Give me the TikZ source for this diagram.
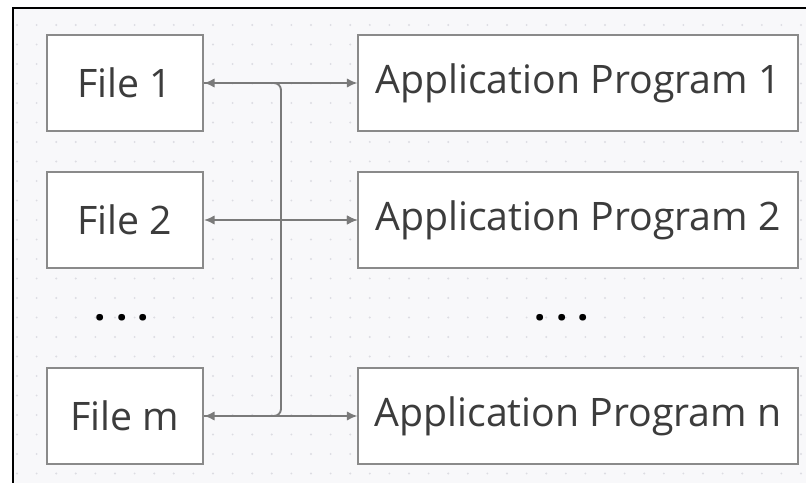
\documentclass[tikz,border=0pt]{standalone}
\usepackage{fontspec}
\setmainfont{Open Sans}
\usetikzlibrary{positioning, arrows.meta}

\definecolor{paper}{HTML}{F8F8FA}
\definecolor{griddot}{HTML}{DCDCE2}
\definecolor{edge}{HTML}{8A8A8A}
\definecolor{link}{HTML}{7A7A7A}
\definecolor{ink}{HTML}{3C3C3C}

\tikzset{
	filebox/.style={draw=edge, line width=1.7pt, fill=white, minimum width=4.68cm, minimum height=2.88cm, text=ink, font=\fontsize{33.5}{38}\selectfont},
	progbox/.style={filebox, minimum width=13.17cm},
	link/.style={draw=link, line width=1.6pt, {Latex[length=9pt,width=8pt]}-{Latex[length=9pt,width=8pt]}},
	gap/.style={anchor=base, inner sep=0pt, font=\fontsize{34}{38}\selectfont\bfseries}
}

\begin{document}
\begin{tikzpicture}[x=0.03cm, y=-0.03cm]
	\useasboundingbox (0,0) rectangle (806,483);
	% dotted canvas
	\fill[paper] (13,8) rectangle (806,483);
	\foreach \x in {17,36.6,...,806}
		\foreach \y in {25,44.5,...,483}
			\fill[griddot] (\x,\y) circle (0.9pt);
	\draw[line width=1.4pt] (13,483) -- (13,8) -- (806,8);

	% files and programs
	\node[filebox] (f1) at (125,83) {File 1};
	\node[filebox] (f2) at (125,220) {File 2};
	\node[filebox] (fm) at (125,416) {File m};
	\node[progbox] (a1) at (578,83) {Application Program 1};
	\node[progbox] (a2) at (578,220) {Application Program 2};
	\node[progbox] (an) at (578,416) {Application Program n};
	\node[gap] (d1) at (122,321) {.\ .\ .};
	\node[gap] (d2) at (562,321) {.\ .\ .};

	% shared bus
	\coordinate (bus) at (281,0);
	\draw[link] (f1) -- (a1);
	\draw[link] (f2) -- (a2);
	\draw[link] (fm) -- (an);
	\draw[link, -, rounded corners=6pt] (f1.east) -| (bus |- a2.west) |- (fm.east);
	\draw[link, -{Latex[length=9pt,width=8pt]}] (bus |- a2.west) -- (a2.west);
\end{tikzpicture}
\end{document}
